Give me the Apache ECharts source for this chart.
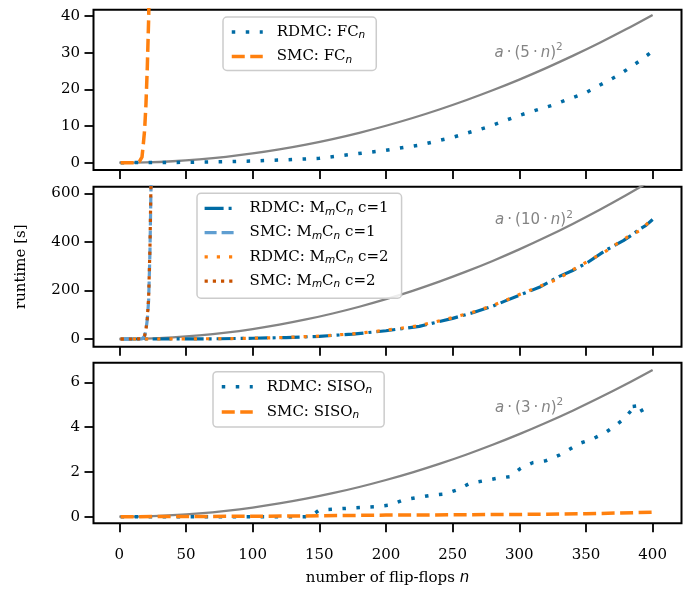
<!DOCTYPE html>
<html>
<head>
<meta charset="utf-8">
<script src="https://cdn.jsdelivr.net/npm/echarts@6/dist/echarts.min.js"></script>
<style>
html,body{margin:0;padding:0;background:#fff;}
#chart{width:694px;height:591px;}
</style>
</head>
<body>
<div id="chart"></div>
<script>
// ---------- data ----------
const xTicks = [0, 50, 100, 150, 200, 250, 300, 350, 400];
const yTicks1 = [0, 10, 20, 30, 40];
const yTicks2 = [0, 200, 400, 600];
const yTicks3 = [0, 2, 4, 6];

// reference quadratic curves
const fitN = [0, 20, 40, 60, 80, 100, 120, 140, 160, 180, 200, 220, 240, 260, 280, 300, 320, 340, 360, 380, 400];
const fit1 = [0, 0.10, 0.40, 0.91, 1.61, 2.52, 3.63, 4.94, 6.45, 8.16, 10.08, 12.19, 14.51, 17.03, 19.75, 22.67, 25.79, 29.12, 32.64, 36.37, 40.30];
const fit2 = [0, 1.6, 6.6, 14.8, 26.2, 41, 59, 80.4, 105, 132.8, 164, 198.4, 236.2, 277.2, 321.4, 369, 419.8, 474, 531.4, 592, 656];
const fit3 = [0, 0.016, 0.066, 0.147, 0.262, 0.409, 0.590, 0.802, 1.048, 1.326, 1.638, 1.981, 2.358, 2.767, 3.210, 3.684, 4.192, 4.732, 5.306, 5.911, 6.55];

// panel 1: FC_n
const fcN = [1, 25, 50, 75, 100, 125, 150, 175, 200, 225, 250, 275, 300, 325, 350, 375, 390, 400];
const rdmcFC = [0, 0.05, 0.1, 0.25, 0.45, 0.8, 1.2, 2.3, 3.4, 4.8, 6.9, 9.6, 12.9, 15.7, 19.1, 24.0, 27.7, 30.4];
const smcFCN = [1, 4, 7, 10, 13, 15, 17, 18, 19, 20, 21, 22, 23];
const smcFC = [0, 0, 0, 0, 0.05, 0.3, 1.5, 5, 9, 16, 26, 39, 60];

// panel 2: M_mC_n
const mmN = [1, 25, 50, 75, 100, 125, 150, 175, 200, 225, 250, 265, 280, 290, 300, 315, 330, 340, 352, 365, 378, 385, 390, 395, 400];
const rdmcMM1 = [0, 0, 0.5, 1, 3, 6, 11, 20, 34, 52, 85, 108, 135, 158, 180, 213, 258, 282, 318, 366, 405, 430, 452, 468, 492];
const rdmcMM2 = [0, 0, 0.6, 1.2, 3, 6.5, 12, 21, 36, 55, 88, 110, 138, 160, 183, 216, 250, 285, 322, 362, 410, 432, 445, 470, 495];
const smcMMN = [1, 5, 10, 15, 17, 18, 19, 20, 21, 22, 23, 24];
const smcMM1 = [0, 0, 0, 0.2, 0.5, 3, 12, 37, 80, 160, 360, 700];
const smcMM2 = [0, 0, 0, 0.2, 0.5, 4, 14, 40, 85, 170, 380, 720];

// panel 3: SISO_n
const sisoN = [1, 25, 50, 75, 100, 125, 143, 150, 170, 193, 203, 213, 233, 244, 253, 263, 283, 293, 301, 310, 320, 330, 338, 345, 355, 365, 371, 379, 384, 386, 387, 390, 395, 400];
const rdmcSISO = [0, 0, 0, 0, 0, 0, 0, 0.3, 0.37, 0.45, 0.52, 0.75, 0.95, 1.01, 1.19, 1.49, 1.71, 1.79, 2.16, 2.41, 2.5, 2.75, 3.02, 3.27, 3.47, 3.77, 4.02, 4.39, 4.75, 5.08, 4.62, 4.68, 4.85, 4.97];
const smcSISON = [1, 50, 100, 150, 200, 250, 300, 350, 400];
const smcSISO = [0, 0.01, 0.02, 0.04, 0.07, 0.085, 0.1, 0.13, 0.2];

// ---------- styling ----------
const BLUE = '#006BA4', ORANGE = '#FF800E', LBLUE = '#5F9ED1', DORANGE = '#C85200', GRAY = '#848484';
const SERIF = 'DejaVu Serif', SANS = 'DejaVu Sans';
const zip = (xs, ys) => xs.map((x, i) => [x, ys[i]]);

const legendNames = {
  'RDMC: FCn': 'RDMC: FC{s|n}',
  'SMC: FCn': 'SMC: FC{s|n}',
  'RDMC: MmCn c=1': 'RDMC: M{s|m}C{s|n} c=1',
  'SMC: MmCn c=1': 'SMC: M{s|m}C{s|n} c=1',
  'RDMC: MmCn c=2': 'RDMC: M{s|m}C{s|n} c=2',
  'SMC: MmCn c=2': 'SMC: M{s|m}C{s|n} c=2',
  'RDMC: SISOn': 'RDMC: SISO{s|n}',
  'SMC: SISOn': 'SMC: SISO{s|n}'
};

const grids = [
  {left: 93.5, top: 9.7, width: 588, height: 160.3},
  {left: 93.5, top: 186.7, width: 588, height: 160},
  {left: 93.5, top: 362.7, width: 588, height: 160.6}
].map(g => Object.assign(g, {show: true, borderColor: '#000', borderWidth: 2, backgroundColor: 'transparent', containLabel: false}));

function xAxis(i, labels) {
  return {
    type: 'value', gridIndex: i, min: -19.35, max: 421.65,
    axisLine: {show: false, onZero: false},
    splitLine: {show: false},
    axisTick: {show: true, inside: false, length: 9, customValues: xTicks, lineStyle: {color: '#000', width: 1.8}},
    axisLabel: {show: labels, customValues: xTicks, margin: 24, color: '#000', fontFamily: SERIF, fontSize: 15}
  };
}
function yAxis(i, min, max, ticks) {
  return {
    type: 'value', gridIndex: i, min: min, max: max,
    axisLine: {show: false, onZero: false},
    splitLine: {show: false},
    axisTick: {show: true, inside: false, length: 9, customValues: ticks, lineStyle: {color: '#000', width: 1.8}},
    axisLabel: {show: true, customValues: ticks, margin: 13.5, color: '#000', fontFamily: SERIF, fontSize: 15}
  };
}

function line(name, xi, xs, ys, color, width, dash) {
  return {
    name: name, type: 'line', xAxisIndex: xi, yAxisIndex: xi,
    data: zip(xs, ys), symbol: 'none', showSymbol: false, color: color,
    lineStyle: {color: color, width: width, type: dash, cap: 'butt'},
    clip: true, silent: true
  };
}

function fitLine(xi, ys, label, coord) {
  return {
    name: 'fit' + xi, type: 'line', xAxisIndex: xi, yAxisIndex: xi,
    data: zip(fitN, ys), symbol: 'none', smooth: 0.3, color: GRAY,
    lineStyle: {color: GRAY, width: 2.3}, clip: true, silent: true, z: 1,
    markPoint: {
      symbol: 'circle', symbolSize: 0, silent: true,
      label: {
        show: true, position: 'inside', formatter: label, color: GRAY,
        fontFamily: SANS, fontSize: 15, lineHeight: 22,
        rich: {
          i: {fontFamily: SANS, fontStyle: 'italic', fontSize: 15, color: GRAY, lineHeight: 22},
          p: {fontFamily: SANS, fontSize: 10.5, color: GRAY, lineHeight: 12, verticalAlign: 'top'}
        }
      },
      data: [{coord: coord}]
    }
  };
}

function legend(names, left, top, gap, pad) {
  return {
    data: names, orient: 'vertical', left: left, top: top,
    itemWidth: 31, itemHeight: 14, itemGap: gap, padding: pad,
    backgroundColor: 'rgba(255,255,255,0.85)', borderColor: '#cccccc', borderWidth: 1.5, borderRadius: 4,
    selectedMode: false,
    itemStyle: {opacity: 0, borderWidth: 0},
    lineStyle: {width: 'inherit', type: 'inherit', cap: 'butt'},
    formatter: n => legendNames[n],
    textStyle: {
      fontFamily: SERIF, fontSize: 15, color: '#000', lineHeight: 18, padding: [0, 0, 0, 9],
      rich: {s: {fontFamily: SANS, fontStyle: 'italic', fontSize: 10.5, lineHeight: 10, verticalAlign: 'bottom', color: '#000'}}
    }
  };
}

const TS = '\u2009·\u2009';
const option = {
  animation: false,
  backgroundColor: '#fff',
  grid: grids,
  xAxis: [xAxis(0, false), xAxis(1, false), xAxis(2, true)],
  yAxis: [yAxis(0, -1.99, 41.72, yTicks1), yAxis(1, -31.7, 627.2, yTicks2), yAxis(2, -0.295, 6.875, yTicks3)],
  legend: [
    legend(['RDMC: FCn', 'SMC: FCn'], 223, 17, 6.4, [6, 11, 5, 7]),
    legend(['RDMC: MmCn c=1', 'SMC: MmCn c=1', 'RDMC: MmCn c=2', 'SMC: MmCn c=2'], 197, 193.3, 6.3, [6, 13, 8, 6]),
    legend(['RDMC: SISOn', 'SMC: SISOn'], 213, 371.7, 7.4, [6, 12, 6, 7])
  ],
  series: [
    fitLine(0, fit1, '{i|a}' + TS + '(5' + TS + '{i|n}){p|2}', [307, 29.9]),
    line('RDMC: FCn', 0, fcN, rdmcFC, BLUE, 3.5, [3.5, 10.5]),
    line('SMC: FCn', 0, smcFCN, smcFC, ORANGE, 3.5, [13, 5.5]),

    fitLine(1, fit2, '{i|a}' + TS + '(10' + TS + '{i|n}){p|2}', [311, 488]),
    line('RDMC: MmCn c=1', 1, mmN, rdmcMM1, BLUE, 3.2, [19, 5, 3, 5]),
    line('SMC: MmCn c=1', 1, smcMMN, smcMM1, LBLUE, 3.2, [12, 5]),
    line('RDMC: MmCn c=2', 1, mmN, rdmcMM2, ORANGE, 3.2, [3.2, 9]),
    line('SMC: MmCn c=2', 1, smcMMN, smcMM2, DORANGE, 3.2, [3.2, 5]),

    fitLine(2, fit3, '{i|a}' + TS + '(3' + TS + '{i|n}){p|2}', [307.4, 4.85]),
    line('RDMC: SISOn', 2, sisoN, rdmcSISO, BLUE, 3.5, [3.5, 10.5]),
    line('SMC: SISOn', 2, smcSISON, smcSISO, ORANGE, 3.5, [13, 5.5])
  ],
  graphic: [
    {type: 'text', x: 21, y: 266.7, rotation: Math.PI / 2, silent: true,
     style: {text: 'runtime [s]', fontFamily: SERIF, fontSize: 15, fill: '#000', textAlign: 'center', textVerticalAlign: 'middle'}},
    {type: 'text', x: 387.5, y: 578, silent: true,
     style: {text: 'number of flip-flops {i|n}', fontFamily: SERIF, fontSize: 15, fill: '#000', textAlign: 'center', textVerticalAlign: 'middle',
             rich: {i: {fontFamily: SANS, fontStyle: 'italic', fontSize: 15, fill: '#000'}}}}
  ]
};

const chart = echarts.init(document.getElementById('chart'), null, {renderer: 'canvas'});
chart.setOption(option);
</script>
</body>
</html>
